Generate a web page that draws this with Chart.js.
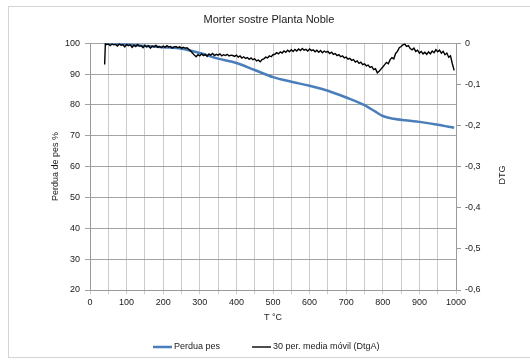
<!DOCTYPE html>
<html>
<head>
<meta charset="utf-8">
<script src="https://cdn.jsdelivr.net/npm/chart.js@4.4.1/dist/chart.umd.min.js"></script>
<style>
  html, body { margin: 0; padding: 0; background: #fff; }
  canvas { display: block; }
</style>
</head>
<body>
<canvas id="tgaChart" width="530" height="363"></canvas>
<script>
// Perdua pes (%), left axis
const weightTemps = [40, 100, 150, 200, 250, 300, 350, 400, 450, 500, 550, 600, 650, 700, 750, 780, 800, 830, 860, 900, 950, 995];
const weightValues = [100, 99.6, 99.1, 98.7, 98.2, 96.8, 95.0, 93.6, 91.3, 89.0, 87.5, 86.2, 84.6, 82.4, 79.9, 77.8, 76.4, 75.5, 75.0, 74.5, 73.6, 72.6];

// 30 per. media movil (DtgA), right axis
const dtgTemps = [
  40, 42, 45, 50, 55, 60, 65, 70, 75, 80, 85, 90, 95, 100, 105, 110, 115, 120, 125, 130,
  135, 140, 145, 150, 155, 160, 165, 170, 175, 180, 185, 190, 195, 200, 205, 210, 215, 220, 225, 230,
  235, 240, 245, 250, 255, 260, 265, 270, 275, 280, 285, 290, 295, 300, 305, 310, 315, 320, 325, 330,
  335, 340, 345, 350, 355, 360, 365, 370, 375, 380, 385, 390, 395, 400, 405, 410, 415, 420, 425, 430,
  435, 440, 445, 450, 455, 460, 465, 470, 475, 480, 485, 490, 495, 500, 505, 510, 515, 520, 525, 530,
  535, 540, 545, 550, 555, 560, 565, 570, 575, 580, 585, 590, 595, 600, 605, 610, 615, 620, 625, 630,
  635, 640, 645, 650, 655, 660, 665, 670, 675, 680, 685, 690, 695, 700, 705, 710, 715, 720, 725, 730,
  735, 740, 745, 750, 755, 760, 765, 770, 775, 780, 785, 790, 795, 800, 805, 810, 815, 820, 825, 830,
  835, 840, 845, 850, 855, 860, 865, 870, 875, 880, 885, 890, 895, 900, 905, 910, 915, 920, 925, 930,
  935, 940, 945, 950, 955, 960, 965, 970, 975, 980, 985, 990, 995
];
const dtgValues = [
  -0.052, -0.001, -0.003, -0.002, -0.006, -0.002, -0.004, -0.003, -0.007, -0.002, -0.005, -0.004, -0.009, -0.003, -0.006, -0.004, -0.010, -0.005, -0.008, -0.003,
  -0.007, -0.006, -0.011, -0.005, -0.009, -0.006, -0.012, -0.007, -0.009, -0.005, -0.010, -0.008, -0.011, -0.007, -0.010, -0.006, -0.009, -0.008, -0.012, -0.009,
  -0.008, -0.011, -0.009, -0.012, -0.010, -0.012, -0.011, -0.015, -0.019, -0.024, -0.029, -0.033, -0.028, -0.031, -0.026, -0.030, -0.027, -0.032, -0.026, -0.029,
  -0.025, -0.030, -0.027, -0.029, -0.026, -0.031, -0.028, -0.030, -0.027, -0.031, -0.029, -0.030, -0.032, -0.029, -0.034, -0.031, -0.036, -0.033, -0.037, -0.035,
  -0.039, -0.036, -0.040, -0.038, -0.043, -0.041, -0.045, -0.040, -0.038, -0.034, -0.036, -0.031, -0.033, -0.028, -0.027, -0.023, -0.026, -0.021, -0.024, -0.019,
  -0.022, -0.017, -0.021, -0.016, -0.020, -0.015, -0.019, -0.014, -0.018, -0.013, -0.017, -0.015, -0.019, -0.014, -0.018, -0.016, -0.021, -0.017, -0.022, -0.018,
  -0.023, -0.019, -0.022, -0.020, -0.025, -0.022, -0.027, -0.025, -0.030, -0.028, -0.033, -0.031, -0.036, -0.034, -0.039, -0.037, -0.042, -0.040, -0.046, -0.043,
  -0.049, -0.046, -0.052, -0.050, -0.055, -0.053, -0.059, -0.057, -0.064, -0.062, -0.072, -0.068, -0.063, -0.058, -0.052, -0.047, -0.050, -0.040, -0.035, -0.038,
  -0.025, -0.020, -0.011, -0.008, -0.004, -0.002, -0.008, -0.006, -0.013, -0.016, -0.012, -0.020, -0.017, -0.024, -0.020, -0.026, -0.022, -0.027, -0.021, -0.026,
  -0.019, -0.023, -0.016, -0.021, -0.017, -0.024, -0.020, -0.028, -0.024, -0.034, -0.031, -0.050, -0.066
];

const seriesLabels = ['Perdua pes', '30 per. media móvil (DtgA)'];

const FONT = 'Liberation Sans, Arial, sans-serif';
const TEXT = '#1a1a1a';

const frameAndLegend = {
  id: 'frameAndLegend',
  beforeDraw(chart) {
    const c = chart.ctx;
    c.save();
    c.fillStyle = '#fff';
    c.fillRect(0, 0, chart.width, chart.height);
    c.strokeStyle = '#d4d4d4';
    c.lineWidth = 1;
    c.strokeRect(8.5, 6.5, chart.width + 10, 351);
    c.restore();
  },
  afterDraw(chart) {
    const c = chart.ctx;
    c.save();
    // right axis title, rotated like the left one
    c.font = '9px ' + FONT;
    c.fillStyle = TEXT;
    c.textAlign = 'center';
    c.textBaseline = 'middle';
    c.translate(503, 175);
    c.rotate(-Math.PI / 2);
    c.fillText('DTG', 0, 0);
    c.restore();

    // legend
    c.save();
    c.font = '9px ' + FONT;
    c.textBaseline = 'middle';
    c.textAlign = 'left';
    const y = 347;
    let x = 153;
    chart.data.datasets.forEach((d) => {
      c.strokeStyle = d.borderColor;
      c.lineWidth = d.borderWidth;
      c.beginPath();
      c.moveTo(x, y);
      c.lineTo(x + 19, y);
      c.stroke();
      c.fillStyle = TEXT;
      c.fillText(d.label, x + 21, y);
      x += 21 + c.measureText(d.label).width + 32;
    });
    c.restore();
  }
};

const ctx = document.getElementById('tgaChart').getContext('2d');
const chart = new Chart(ctx, {
  type: 'line',
  data: {
    datasets: [
      {
        label: seriesLabels[0],
        data: weightTemps.map((t, i) => ({ x: t, y: weightValues[i] })),
        yAxisID: 'y',
        borderColor: '#4a7ebb',
        borderWidth: 2.5,
        pointRadius: 0,
        cubicInterpolationMode: 'monotone',
        order: 1
      },
      {
        label: seriesLabels[1],
        data: dtgTemps.map((t, i) => ({ x: t, y: dtgValues[i] })),
        yAxisID: 'y2',
        borderColor: '#000000',
        borderWidth: 1.4,
        pointRadius: 0,
        tension: 0,
        order: 0
      }
    ]
  },
  options: {
    responsive: false,
    animation: false,
    devicePixelRatio: 1,
    layout: {
      padding: { left: 8, right: 0, top: 6, bottom: 33 }
    },
    plugins: {
      legend: { display: false },
      tooltip: { enabled: false },
      title: {
        display: true,
        text: 'Morter sostre Planta Noble',
        color: TEXT,
        font: { family: FONT, size: 11, weight: 'normal' },
        padding: { top: 7, bottom: 17 }
      }
    },
    scales: {
      x: {
        type: 'linear',
        min: 0,
        max: 1000,
        afterFit: (scale) => { scale.height = 40; },
        ticks: {
          stepSize: 50,
          autoSkip: false,
          maxRotation: 0,
          padding: 3,
          color: TEXT,
          font: { family: FONT, size: 9 },
          callback: (v) => (v % 100 === 0 ? String(v) : '')
        },
        grid: { color: '#cbcbcb', tickLength: 4 },
        border: { color: '#9a9a9a' },
        title: {
          display: true,
          text: 'T °C',
          color: TEXT,
          font: { family: FONT, size: 9 },
          padding: { top: 0, bottom: 6.6 }
        }
      },
      y: {
        position: 'left',
        min: 20,
        max: 100,
        afterFit: (scale) => { scale.width = 82; },
        ticks: {
          stepSize: 10,
          padding: 5,
          color: TEXT,
          font: { family: FONT, size: 9 }
        },
        grid: { color: '#a3a3a3', tickLength: 5 },
        border: { color: '#9a9a9a' },
        title: {
          display: true,
          text: 'Perdua de pes %',
          color: TEXT,
          font: { family: FONT, size: 9 },
          padding: { top: 42, bottom: 0 }
        }
      },
      y2: {
        position: 'right',
        min: -0.6,
        max: 0,
        afterFit: (scale) => { scale.width = 74; },
        ticks: {
          stepSize: 0.1,
          padding: 4,
          color: TEXT,
          font: { family: FONT, size: 9 },
          callback: (v) => (Math.abs(v) < 1e-9 ? '0' : v.toFixed(1).replace('.', ','))
        },
        grid: { drawOnChartArea: false, color: '#9a9a9a', tickLength: 5 },
        border: { color: '#9a9a9a' }
      }
    }
  },
  plugins: [frameAndLegend]
});
</script>
</body>
</html>
